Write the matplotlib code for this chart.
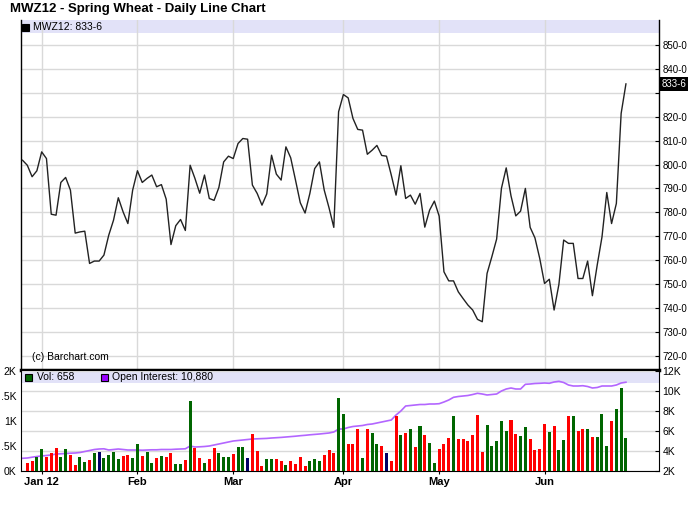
import matplotlib
matplotlib.use("Agg")
import matplotlib.pyplot as plt
from matplotlib.patches import Rectangle

plt.rcParams['font.family'] = ['Liberation Sans', 'DejaVu Sans']

# daily closes (cents/bu), first point is the day before the first volume bar
closes = [801.8, 799.7, 794.9, 797.4, 805.3, 802.5, 779.2, 778.8, 792.5, 794.6,
          789.3, 771.3, 771.8, 772.1, 758.6, 759.6, 759.6, 762.1, 770.4, 776.7,
          786.1, 780.2, 775.3, 789.3, 797.4, 792.5, 794.2, 795.6, 790.7, 791.6,
          785.5, 766.5, 774.4, 777.0, 772.4, 799.7, 794.2, 788.0, 795.6, 785.8,
          785.0, 790.4, 801.1, 803.5, 802.5, 808.8, 810.9, 810.6, 791.4, 787.9,
          783.0, 787.7, 803.9, 796.0, 793.5, 807.4, 802.8, 793.5, 784.0, 779.7,
          787.9, 798.3, 801.1, 789.3, 781.9, 773.7, 822.1, 829.3, 827.9, 819.3,
          814.7, 814.4, 804.3, 806.0, 808.0, 803.8, 803.5, 795.6, 787.2, 799.5,
          785.8, 787.2, 783.4, 787.9, 773.8, 780.9, 784.7, 778.4, 755.1, 751.3,
          751.3, 746.7, 743.9, 741.2, 739.1, 735.2, 734.2, 754.4, 761.4, 768.8,
          790.0, 798.6, 786.9, 778.5, 780.5, 790.0, 773.7, 769.3, 760.7, 750.2,
          752.0, 739.1, 749.8, 768.4, 767.0, 767.0, 752.3, 752.3, 759.6, 745.1,
          757.9, 769.7, 788.3, 775.3, 783.7, 821.4, 833.75]

volume = [170, 210, 290, 450, 290, 370, 470, 290, 450, 330,
          130, 290, 190, 230, 370, 390, 270, 330, 390, 250,
          310, 330, 270, 550, 310, 390, 170, 270, 310, 290,
          370, 150, 150, 230, 1410, 470, 270, 170, 250, 470,
          370, 290, 290, 350, 490, 490, 270, 750, 410, 110,
          250, 250, 250, 210, 130, 210, 150, 290, 110, 210,
          250, 210, 330, 430, 370, 1470, 1150, 550, 550, 850,
          270, 850, 760, 550, 510, 370, 200, 1110, 730, 760,
          850, 480, 910, 730, 570, 170, 450, 550, 660, 1100,
          640, 640, 600, 720, 1120, 380, 920, 500, 600, 1000,
          800, 1020, 740, 700, 880, 640, 420, 440, 940, 780,
          900, 420, 620, 1100, 1100, 800, 840, 840, 680, 680,
          1140, 500, 1000, 1240, 1660, 658]

# r = down day, g = up day, n = unchanged
vol_dir = ("rrggrrrggr" "rggrgngggg" "rrggrggrgr" "rggrgrrgrr" "gggrggnrrr"
           "ggrrgrrrrg" "ggrrrggr" "rrgrggrnrr" "grgrgrggrr" "rgrrrrrrgg"
           "gggrrggrrr" "rgrggrgrrg" "rgggrggg")

open_interest = [3270, 3300, 3380, 3450, 3500, 3550, 3600, 3700, 3720, 3750,
                 3780, 3800, 3850, 3950, 4050, 4150, 4200, 4220, 4100, 4150,
                 4200, 4150, 4100, 4100, 4100, 4080, 4100, 4120, 4120, 4150,
                 4150, 4150, 4180, 4200, 4220, 4500, 4400, 4420, 4450, 4500,
                 4600, 4700, 4800, 4900, 5000, 5050, 5100, 5150, 5200, 5220,
                 5240, 5260, 5300, 5330, 5360, 5400, 5440, 5480, 5530, 5570,
                 5620, 5660, 5700, 5750, 5800, 5900, 6200, 6200, 6350, 6450,
                 6500, 6550, 6650, 6700, 6800, 6900, 7000, 7100, 7600, 8000,
                 8500, 8550, 8600, 8650, 8650, 8700, 8700, 8730, 8900, 9100,
                 9370, 9450, 9500, 9550, 9650, 9770, 9700, 9600, 9650, 9700,
                 10000, 10200, 10300, 10200, 10200, 10670, 10700, 10750, 10770, 10800,
                 10770, 10900, 10970, 10850, 10600, 10500, 10500, 10530, 10450, 10300,
                 10350, 10500, 10500, 10500, 10600, 10800, 10880]

months = ["Jan 12", "Feb", "Mar", "Apr", "May", "Jun"]
month_pos = [4, 24, 44, 67, 87, 109]

price_ticks = list(range(720, 851, 10))
oi_ticks = [2000, 4000, 6000, 8000, 10000, 12000]
vol_ticks = [0, 500, 1000, 1500, 2000]
vol_labels = ["0K", ".5K", "1K", ".5K", "2K"]  # as cut on the original

dir_colors = {"r": "#ff0000", "g": "#006600", "n": "#000066"}
band = "#e2e2f8"
grid_c = "#d9d9d9"


def fx(px):
    return px / 700


def fy(py):
    return 1 - py / 512


fig = plt.figure(figsize=(7, 5.12), dpi=100)
left, right = 20.7, 658.5
ax = fig.add_axes([fx(left), fy(370), fx(right) - fx(left), fy(20) - fy(370)])
axo = fig.add_axes([fx(left), fy(471), fx(right) - fx(left), fy(371) - fy(471)])
axv = axo.twinx()

xlim = (-0.38, 132.8)

# ---- price panel
ax.plot(range(len(closes)), closes, color="#222222", lw=1.0, zorder=3)
ax.set_xlim(*xlim)
ax.set_ylim(714, 860.5)
ax.axhspan(855.0, 860.5, color=band, zorder=0.1, lw=0)
ax.set_axisbelow(True)
ax.set_xticks(month_pos)
ax.set_xticklabels([])
ax.tick_params(axis="x", length=0)
ax.yaxis.tick_right()
ax.set_yticks(price_ticks)
ax.set_yticklabels(["" if v == 830 else f"{v}-0" for v in price_ticks])
ax.tick_params(axis="y", direction="in", length=3, pad=3, labelsize=7)
ax.grid(True, color=grid_c, lw=1)
ax.spines["top"].set_visible(False)
ax.spines["bottom"].set_linewidth(2.5)
for s in ["left", "right"]:
    ax.spines[s].set_linewidth(1)
ax.text(1.005, closes[-1], "833-6", transform=ax.get_yaxis_transform(),
        color="white", fontsize=7, va="center", ha="left",
        bbox=dict(facecolor="black", edgecolor="none", pad=1.2))

fig.text(fx(10), fy(9), "MWZ12 - Spring Wheat - Daily Line Chart",
         fontsize=9.5, fontweight="bold", va="center", ha="left")
fig.text(fx(32), fy(357), "(c) Barchart.com", fontsize=7.5, va="center")
fig.patches.append(Rectangle((fx(22), fy(30.5)), fx(6.5), fy(24) - fy(30.5),
                             transform=fig.transFigure, facecolor="black",
                             edgecolor="black", lw=0.8))
fig.text(fx(33), fy(27), "MWZ12: 833-6", fontsize=7.5, va="center")

# ---- volume / open interest panel
axo.plot(range(len(open_interest)), open_interest, color="#b366ff", lw=1.2,
         zorder=2)
axo.set_xlim(*xlim)
axo.set_ylim(2000, 12000)
axo.axhspan(10800, 12000, color=band, zorder=0.1, lw=0)
axo.set_axisbelow(True)
axo.yaxis.tick_right()
axo.set_yticks(oi_ticks)
axo.set_yticklabels([f"{v // 1000}K" for v in oi_ticks])
axo.tick_params(axis="y", direction="in", length=3, pad=3, labelsize=7.5)
axo.grid(True, axis="y", color=grid_c, lw=1)
axo.set_xticks(month_pos)
axo.set_xticklabels(months, fontweight="bold", fontsize=8)
axo.tick_params(axis="x", direction="out", length=2, pad=2)
axo.spines["top"].set_visible(False)

axv.bar(range(1, len(volume) + 1), volume, width=0.63,
        color=[dir_colors[c] for c in vol_dir], lw=0, zorder=2)
axv.set_xlim(*xlim)
axv.set_ylim(0, 2000)
axv.yaxis.tick_left()
axv.set_yticks(vol_ticks)
axv.set_yticklabels(vol_labels)
axv.tick_params(axis="y", length=0, pad=3, labelsize=7.5)
axv.set_axisbelow(True)
axv.set_xticks(month_pos)
axv.grid(True, axis="x", color=grid_c, lw=1)
axv.tick_params(axis="x", length=0, labelbottom=False)
for s in axv.spines.values():
    s.set_visible(False)
axv.set_zorder(axo.get_zorder() + 1)
axv.patch.set_visible(False)

fig.patches.append(Rectangle((fx(25), fy(380.5)), fx(7), fy(373.5) - fy(380.5),
                             transform=fig.transFigure, facecolor="#006600",
                             edgecolor="black", lw=0.8))
fig.text(fx(37), fy(377), "Vol: 658", fontsize=7.5, va="center")
fig.patches.append(Rectangle((fx(100.7), fy(380.5)), fx(7), fy(373.5) - fy(380.5),
                             transform=fig.transFigure, facecolor="#9900ff",
                             edgecolor="black", lw=0.8))
fig.text(fx(112), fy(377), "Open Interest: 10,880", fontsize=7.5, va="center")

fig.savefig("out.png", dpi=100)
